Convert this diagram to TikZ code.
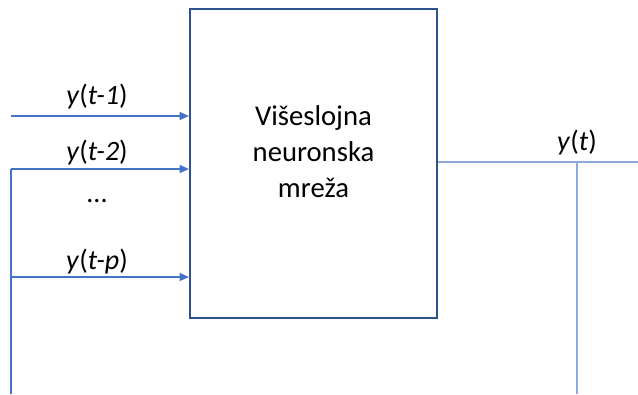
\documentclass[tikz,border=0pt]{standalone}
\usepackage{fontspec}
\setmainfont{Carlito}
\usetikzlibrary{arrows.meta,calc}
\definecolor{boxblue}{HTML}{2F528F}
\definecolor{arrblue}{HTML}{4472C4}
\definecolor{outblue}{HTML}{8FAADC}
\tikzset{
  nnbox/.style={draw=boxblue,line width=1.6pt,minimum width=247*0.75pt,minimum height=309*0.75pt,inner sep=0pt},
  nntext/.style={align=center,inner sep=0pt,font=\fontsize{21.5pt}{27pt}\selectfont},
  inarrow/.style={draw=arrblue,line width=1pt,-{Triangle[length=7pt,width=6pt]}},
  feedline/.style={draw=arrblue,line width=1pt},
  outline/.style={draw=outblue,line width=1.3pt},
  lbl/.style={font=\fontsize{21pt}{24pt}\selectfont,inner sep=0pt}
}
\begin{document}
\begin{tikzpicture}[x=0.75pt,y=-0.75pt]
\useasboundingbox (0,0) rectangle (638,394);
\node[nnbox] (nn) at (313.5,163.5) {};
\node[nntext] (nnt) at (313.5,152) {Višeslojna\\neuronska\\mreža};
% input free ends
\coordinate (i1) at (11,116);
\coordinate (i2) at (11,169);
\coordinate (ip) at (11,277);
\coordinate (fb) at (11,394);
\draw[inarrow] (i1) -- (i1 -| nn.west);
\draw[inarrow] (i2) -- (i2 -| nn.west);
\draw[inarrow] (ip) -- (ip -| nn.west);
\draw[feedline] (fb) -- (i2);
% output
\coordinate (oend) at (638,162);
\coordinate (oj) at (577,162);
\coordinate (obot) at (577,394);
\draw[outline] (oend -| nn.east) -- (oend);
\draw[outline] (oj) -- (obot);
% labels
\node[lbl] (l1) at (97,97) {\textit{y}(\textit{t-1})};
\node[lbl] (l2) at (97,153) {\textit{y}(\textit{t-2})};
\node[lbl] (ld) at (97,201) {...};
\node[lbl] (lp) at (97,262) {\textit{y}(\textit{t-p})};
\node[lbl] (lo) at (577,143) {\textit{y}(\textit{t})};
\end{tikzpicture}
\end{document}
